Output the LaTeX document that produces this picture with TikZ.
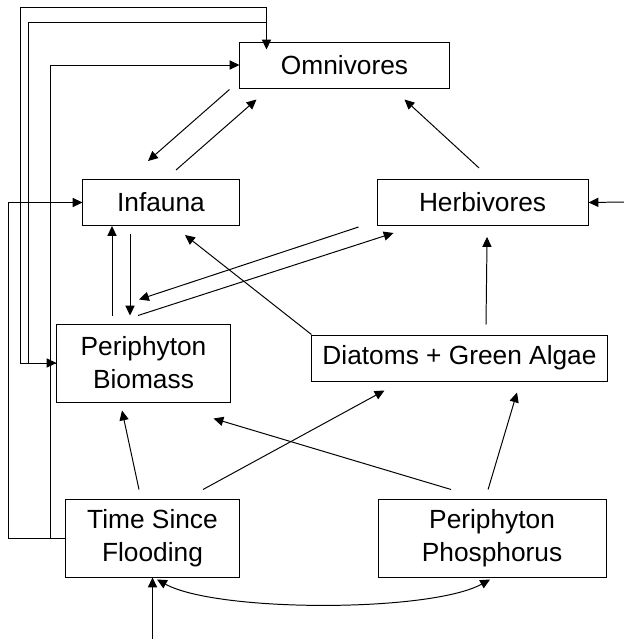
\documentclass[tikz,border=0pt]{standalone}
\usepackage{fontspec}
\setmainfont{Liberation Sans}
\usepackage{tikz}
\usetikzlibrary{arrows.meta, positioning, calc}

\newcommand{\boxfont}{\fontsize{18.7}{23.4}\selectfont}

\begin{document}
\begin{tikzpicture}[x=0.025cm, y=-0.025cm, line width=0.7pt,
		>={Triangle[length=7pt, width=6.5pt]}
	]

	\tikzset{
		box/.style={
				draw, rectangle, inner sep=0pt, align=center, font=\boxfont, minimum height=1.15cm
			},
		tallbox/.style={
				box, minimum height=1.95cm
			},
		arr/.style={->},
	}
	\useasboundingbox (0,0) rectangle (624,639);

	\node[box, minimum width=5.225cm] (omni) at (344.5,65) {Omnivores};
	\node[box, minimum width=3.9cm] (infauna) at (161,202.5) {Infauna};
	\node[box, minimum width=5.275cm, right=3.425cm of infauna] (herb) {Herbivores};
	\node[tallbox, minimum width=4.325cm] (biomass) at (143.5,363) {Periphyton\\Biomass};
	\node[box, minimum width=7.375cm] (diatoms) at (459.5,358) {Diatoms + Green Algae};
	\node[tallbox, minimum width=4.325cm] (tsf) at (152.5,538) {Time Since\\Flooding};
	\node[tallbox, minimum width=5.7cm, right=3.45cm of tsf] (phos) {Periphyton\\Phosphorus};

	\coordinate (hin) at (624,202);
	\coordinate (tin) at (152.5,639);
	\coordinate (otop) at ($(omni.north west)+(27,0)$);

	\draw[arr] ($(omni.south west)+(-10,1)$) -- ($(infauna.north)+(-13,-18)$);
	\draw[arr] ($(infauna.north)+(15,-9)$) -- ($(omni.south west)+(17,11)$);
	\draw[arr] ($(herb.north)+(-3.5,-11)$) -- ($(omni.south east)+(-45,11)$);

	\draw[arr] ($(biomass.north)+(-31.5,-8)$) -- ($(infauna.south)+(-49,0)$);
	\draw[arr] ($(infauna.south)+(-31,8)$) -- ($(biomass.north)+(-13.5,-8)$);
	\draw[arr] ($(herb.south west)+(-18,1)$) -- ($(biomass.north)+(-4.5,-24)$);
	\draw[arr] ($(biomass.north)+(-5.5,-8)$) -- ($(herb.south west)+(17,7)$);

	\draw[arr] (diatoms.north west) -- ($(infauna.south)+(24,9)$);
	\draw[arr] ($(diatoms.north)+(26.5,-10)$) -- ($(herb.south)+(4.5,11)$);
	\draw[arr] (hin) -- (herb.east);

	\draw[arr] ($(tsf.north)+(-13.5,-9)$) -- ($(biomass.south)+(-21.5,8)$);
	\draw[arr] ($(tsf.north)+(50.5,-9)$) -- ($(diatoms.south west)+(73,9)$);
	\draw[arr] ($(phos.north)+(-41,-9)$) -- ($(biomass.south east)+(-17,16)$);
	\draw[arr] ($(phos.north)+(-4,-9)$) -- ($(diatoms.south)+(57.5,11)$);

	% feedback lines on the left
	\draw[arr] (tsf.west) -- ++(-57,0) |- (infauna.west);
	\draw[arr] (tsf.west) -- ++(-15,0) |- (omni.west);
	\draw[arr] (biomass.west) -- ++(-28,0) |- ($(otop)+(0,-19)$) -- ($(otop)+(0,8)$);
	\draw[arr] (otop) -- ++(0,-34) -| ($(biomass.west)+(-36,0)$) -- (biomass.west);

	\draw[arr] (tin) -- (tsf.south);
	\draw[<->] ($(tsf.south)+(4.5,2)$) .. controls ($(tsf.south)+(64.5,35)$) and ($(phos.south)+(-62,35)$) .. ($(phos.south)+(-2,2)$);

\end{tikzpicture}
\end{document}
